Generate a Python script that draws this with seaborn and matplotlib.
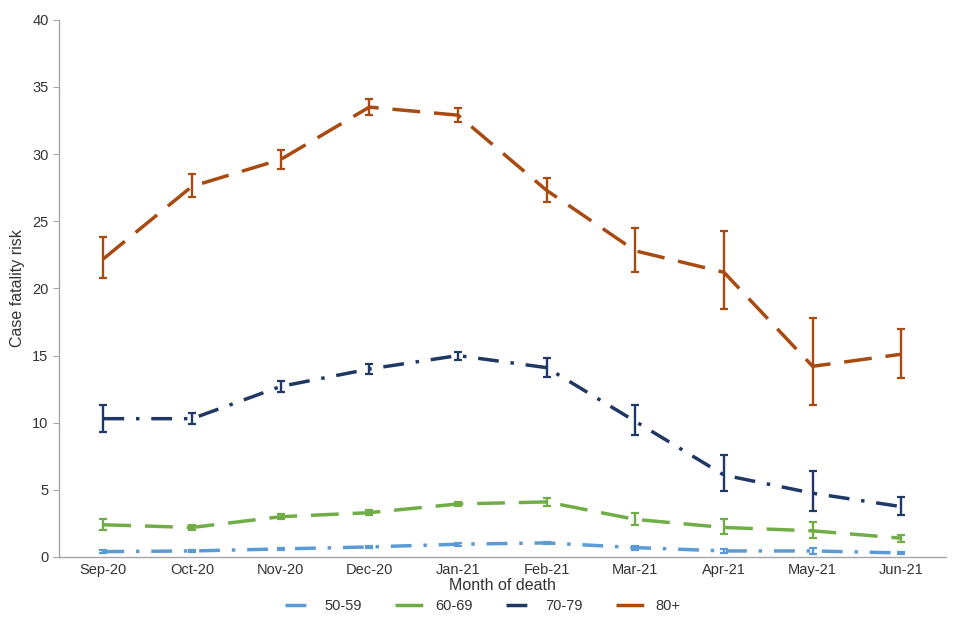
import numpy as np
import pandas as pd
import seaborn as sns
import matplotlib.pyplot as plt
from matplotlib.lines import Line2D

months = ["Sep-20", "Oct-20", "Nov-20", "Dec-20", "Jan-21",
          "Feb-21", "Mar-21", "Apr-21", "May-21", "Jun-21"]
groups = ["50-59", "60-69", "70-79", "80+"]

cfr_50 = [0.4, 0.45, 0.6, 0.75, 0.95, 1.05, 0.7, 0.45, 0.45, 0.3]
lo_50 = [0.3, 0.35, 0.5, 0.65, 0.85, 0.95, 0.55, 0.3, 0.25, 0.2]
hi_50 = [0.5, 0.55, 0.7, 0.85, 1.05, 1.15, 0.85, 0.6, 0.65, 0.4]

cfr_60 = [2.4, 2.2, 3.0, 3.3, 3.95, 4.1, 2.8, 2.2, 1.95, 1.4]
lo_60 = [2.0, 2.0, 2.8, 3.1, 3.8, 3.8, 2.4, 1.7, 1.4, 1.15]
hi_60 = [2.8, 2.4, 3.2, 3.5, 4.1, 4.4, 3.25, 2.8, 2.6, 1.65]

cfr_70 = [10.3, 10.3, 12.7, 14.0, 15.0, 14.1, 10.1, 6.1, 4.75, 3.75]
lo_70 = [9.3, 9.9, 12.3, 13.6, 14.7, 13.4, 9.1, 4.9, 3.4, 3.1]
hi_70 = [11.3, 10.7, 13.1, 14.4, 15.3, 14.8, 11.3, 7.6, 6.4, 4.5]

cfr_80 = [22.2, 27.6, 29.6, 33.5, 32.9, 27.3, 22.8, 21.2, 14.2, 15.1]
lo_80 = [20.8, 26.8, 28.9, 32.9, 32.4, 26.4, 21.2, 18.5, 11.3, 13.3]
hi_80 = [23.8, 28.5, 30.3, 34.1, 33.4, 28.2, 24.5, 24.3, 17.8, 17.0]

colors = {"50-59": "#5B9BD5", "60-69": "#70AD47", "70-79": "#1F3864", "80+": "#A94A10"}
dashes = {"50-59": (6, 3.4, 1, 3.4), "60-69": (8, 4), "70-79": (6, 3.4, 1, 3.4), "80+": (8, 4)}

values = {"50-59": (cfr_50, lo_50, hi_50), "60-69": (cfr_60, lo_60, hi_60),
          "70-79": (cfr_70, lo_70, hi_70), "80+": (cfr_80, lo_80, hi_80)}

rows = []
for g in groups:
    c, lo, hi = values[g]
    for i, m in enumerate(months):
        rows.append({"month": m, "pos": i, "group": g, "cfr": c[i], "lo": lo[i], "hi": hi[i]})
df = pd.DataFrame(rows)

sns.set_style("white")
plt.rcParams["font.family"] = ["Liberation Sans", "DejaVu Sans"]

fig = plt.figure(figsize=(9.6, 6.4), dpi=100)
ax = fig.add_axes([0.0615, 0.1297, 0.9235, 0.8393])

sns.lineplot(data=df, x="pos", y="cfr", hue="group", style="group",
             palette=colors, dashes=dashes, linewidth=2.5, legend=False, ax=ax)

for g in groups:
    sub = df[df["group"] == g]
    ax.errorbar(sub["pos"], sub["cfr"],
                yerr=[sub["cfr"] - sub["lo"], sub["hi"] - sub["cfr"]],
                fmt="none", ecolor=colors[g], elinewidth=1.7, capsize=3, capthick=1.6)

ax.set_xlim(-0.5, len(months) - 0.5)
ax.set_ylim(0, 40)
ax.set_yticks(range(0, 41, 5))
ax.set_xticks(range(len(months)))
ax.set_xticklabels(months)
ax.set_xticks(np.arange(-0.5, len(months), 1), minor=True)
ax.tick_params(axis="x", which="major", length=0, labelsize=10.5, pad=4, labelcolor="#333333")
ax.tick_params(axis="x", which="minor", length=5, color="#A6A6A6", direction="out")
ax.tick_params(axis="y", length=4, color="#A6A6A6", direction="out", labelsize=10.5,
               left=True, labelcolor="#333333")

for s in ["top", "right"]:
    ax.spines[s].set_visible(False)
for s in ["left", "bottom"]:
    ax.spines[s].set_color("#A6A6A6")
    ax.spines[s].set_linewidth(1)

ax.set_xlabel("Month of death", fontsize=11.5, color="#333333", labelpad=1)
ax.set_ylabel("Case fatality risk", fontsize=11.5, color="#333333", labelpad=5)

handles = [Line2D([0], [0], color=colors[g], linewidth=2.5, dashes=dashes[g]) for g in groups]
fig.legend(handles, groups, loc="center", bbox_to_anchor=(0.503, 0.053), ncol=4,
           frameon=False, fontsize=10.5, handlelength=2.2, handletextpad=0.5,
           columnspacing=2.3, labelcolor="#333333")

fig.savefig("out.png", dpi=100)
